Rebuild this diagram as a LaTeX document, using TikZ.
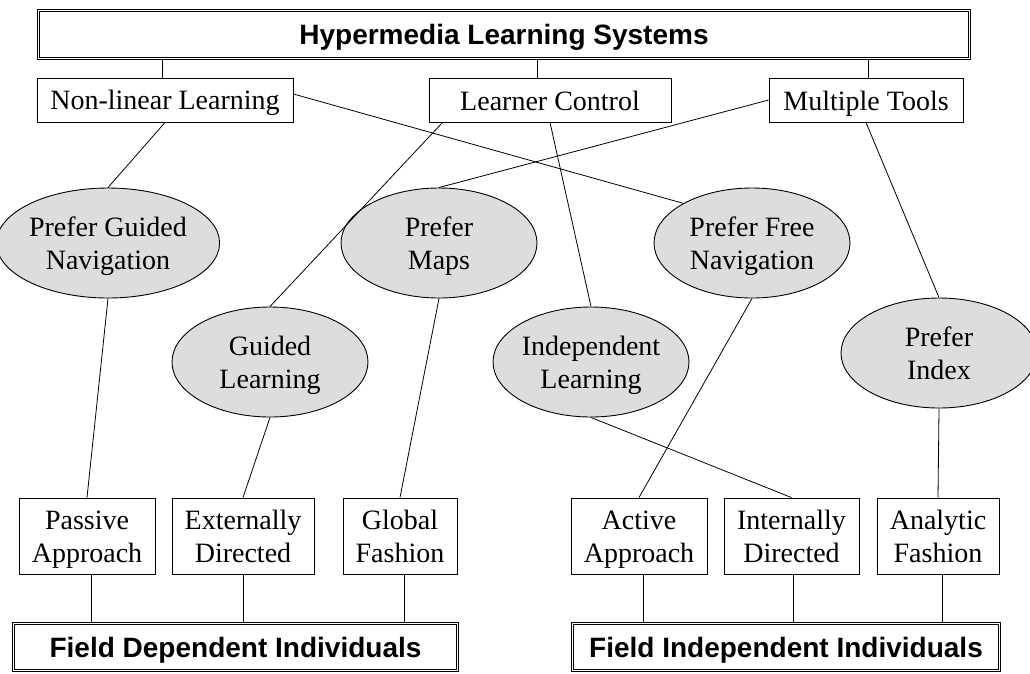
\documentclass[tikz,border=0pt]{standalone}
\usepackage{fontspec}
\setmainfont{Liberation Serif}
\newfontfamily\titlefont{Liberation Sans}
\usetikzlibrary{shapes.geometric}
\definecolor{elfill}{RGB}{221,221,221}
\newcommand\sr{\rule[-6pt]{0pt}{32pt}}
\tikzset{
  txt/.style={font=\fontsize{28pt}{33pt}\selectfont},
  box/.style={txt, draw, line width=0.9pt, inner sep=0pt, align=center, minimum height=44pt},
  lowbox/.style={txt, draw, line width=0.9pt, inner sep=0pt, align=center, minimum height=76pt},
  oval/.style={txt, ellipse, draw, line width=0.9pt, fill=elfill, inner sep=0pt, align=center, minimum width=196pt, minimum height=110pt},
  dbox/.style={draw, double, double distance=1.6pt, line width=0.8pt, inner sep=0pt, align=center,
    font=\titlefont\bfseries\fontsize{28pt}{33pt}\selectfont},
  conn/.style={line width=0.8pt}
}
\begin{document}
\begin{tikzpicture}[x=1pt,y=-1pt]
\useasboundingbox (0,0) rectangle (1030,673);
% top
\node[dbox, minimum width=931pt, minimum height=48pt] (top) at (504,34.5) {\sr Hypermedia Learning Systems};
% first row
\node[box, minimum width=256pt] (nl) at (165,100) {\sr Non-linear Learning};
\node[box, minimum width=242pt] (lc) at (550,100) {\sr Learner Control};
\node[box, minimum width=194pt] (mt) at (866,100) {\sr Multiple Tools};
% ellipses
\node[oval] (pgn) at (108,243) {\sr Prefer Guided\\\sr Navigation};
\node[oval] (pm) at (439,243) {\sr Prefer\\\sr Maps};
\node[oval] (pfn) at (752,243) {\sr Prefer Free\\\sr Navigation};
\node[oval] (gl) at (270,362) {\sr Guided\\\sr Learning};
\node[oval] (il) at (591,362) {\sr Independent\\\sr Learning};
\node[oval] (pi) at (939,353) {\sr Prefer\\\sr Index};
% bottom row
\node[lowbox, minimum width=136pt] (pa) at (87,536) {\sr Passive\\\sr Approach};
\node[lowbox, minimum width=142pt] (ed) at (243,536) {\sr Externally\\\sr Directed};
\node[lowbox, minimum width=114pt] (gf) at (400,536) {\sr Global\\\sr Fashion};
\node[lowbox, minimum width=136pt] (aa) at (639,536) {\sr Active\\\sr Approach};
\node[lowbox, minimum width=135pt] (id) at (791.5,536) {\sr Internally\\\sr Directed};
\node[lowbox, minimum width=122pt] (af) at (938,536) {\sr Analytic\\\sr Fashion};
% bottom title boxes
\node[dbox, minimum width=444pt, minimum height=47pt] (fdi) at (235.5,647) {\sr Field Dependent Individuals};
\node[dbox, minimum width=427pt, minimum height=47pt] (fii) at (786,647) {\sr Field Independent Individuals};
% connectors top
\draw[conn] ([xshift=-3pt]nl.north) -- ([xshift=-3pt]nl.north |- top.south);
\draw[conn] ([xshift=-13pt]lc.north) -- ([xshift=-13pt]lc.north |- top.south);
\draw[conn] ([xshift=2pt]mt.north) -- ([xshift=2pt]mt.north |- top.south);
% row 1 to ellipses
\draw[conn] (nl.south) -- (pgn.north);
\draw[conn] ([yshift=6pt]nl.east) -- (pfn.150);
\draw[conn] ([xshift=14pt]lc.south west) -- (gl.north);
\draw[conn] (lc.south) -- (il.north);
\draw[conn] (mt.west) -- (pm.north);
\draw[conn] (mt.south) -- (pi.north);
% ellipses to bottom row
\draw[conn] (pgn.south) -- (pa.north);
\draw[conn] (gl.south) -- (ed.north);
\draw[conn] (pm.south) -- (gf.north);
\draw[conn] (pfn.south) -- (aa.north);
\draw[conn] (il.south) -- (id.north);
\draw[conn] (pi.south) -- (af.north);
% bottom row to title boxes
\draw[conn] ([xshift=4pt]pa.south) -- ([xshift=4pt]pa.south |- fdi.north);
\draw[conn] (ed.south) -- (ed.south |- fdi.north);
\draw[conn] ([xshift=4pt]gf.south) -- ([xshift=4pt]gf.south |- fdi.north);
\draw[conn] ([xshift=4pt]aa.south) -- ([xshift=4pt]aa.south |- fii.north);
\draw[conn] ([xshift=1.5pt]id.south) -- ([xshift=1.5pt]id.south |- fii.north);
\draw[conn] ([xshift=4pt]af.south) -- ([xshift=4pt]af.south |- fii.north);
\end{tikzpicture}
\end{document}
